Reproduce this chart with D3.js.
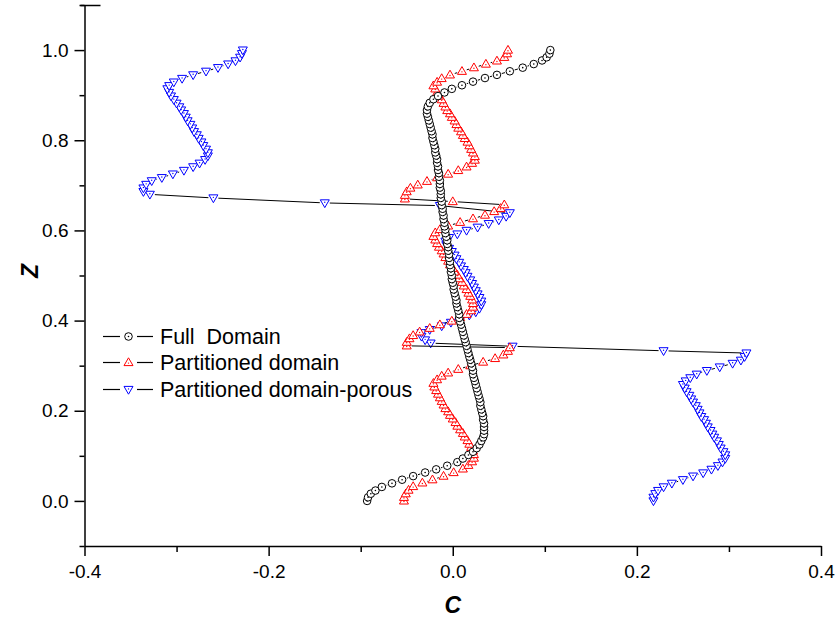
<!DOCTYPE html>
<html><head><meta charset="utf-8">
<script src="https://cdn.jsdelivr.net/npm/d3@7"></script>
<style>body{margin:0;background:#fff}svg{display:block}</style>
</head><body>
<svg id="chart" width="836" height="619"></svg>
<script>
// ---- tick values ----
const xMajor = [-0.4, -0.2, 0.0, 0.2, 0.4];
const xMinor = [-0.3, -0.1, 0.1, 0.3];
const yMajor = [0.0, 0.2, 0.4, 0.6, 0.8, 1.0];
const yMinor = [-0.1, 0.1, 0.3, 0.5, 0.7, 0.9, 1.1];
const seriesNames = ["Full  Domain", "Partitioned domain", "Partitioned domain-porous"];

// ---- Full Domain ----
const zFull = [0,0.008,0.016,0.023,0.031,0.039,0.047,0.055,0.063,0.070,
0.078,0.086,0.094,0.102,0.109,0.117,0.125,0.133,0.141,0.148,
0.156,0.164,0.172,0.180,0.188,0.195,0.203,0.211,0.219,0.227,
0.234,0.242,0.250,0.258,0.266,0.273,0.281,0.289,0.297,0.305,
0.313,0.320,0.328,0.336,0.344,0.352,0.359,0.367,0.375,0.383,
0.391,0.398,0.406,0.414,0.422,0.430,0.438,0.445,0.453,0.461,
0.469,0.477,0.484,0.492,0.500,0.508,0.516,0.523,0.531,0.539,
0.547,0.555,0.563,0.570,0.578,0.586,0.594,0.602,0.609,0.617,
0.625,0.633,0.641,0.648,0.656,0.664,0.672,0.680,0.688,0.695,
0.703,0.711,0.719,0.727,0.734,0.742,0.750,0.758,0.766,0.773,
0.781,0.789,0.797,0.805,0.813,0.820,0.828,0.836,0.844,0.852,
0.859,0.867,0.875,0.883,0.891,0.898,0.906,0.914,0.922,0.930,
0.938,0.945,0.953,0.961,0.969,0.977,0.984,0.992,1.000];
const cFull = [-0.093,-0.092,-0.089,-0.084,-0.077,-0.066,-0.055,-0.043,-0.030,-0.018,
-0.006,0.005,0.011,0.017,0.022,0.026,0.029,0.031,0.033,0.034,
0.034,0.034,0.034,0.033,0.033,0.032,0.031,0.030,0.030,0.029,
0.028,0.027,0.026,0.025,0.024,0.023,0.022,0.022,0.021,0.020,
0.019,0.018,0.017,0.016,0.015,0.014,0.013,0.012,0.011,0.010,
0.009,0.008,0.007,0.007,0.006,0.005,0.004,0.004,0.003,0.002,
0.001,0.001,0.000,-0.001,-0.001,-0.002,-0.002,-0.003,-0.003,-0.004,
-0.004,-0.005,-0.005,-0.006,-0.006,-0.007,-0.008,-0.008,-0.009,-0.009,
-0.010,-0.010,-0.011,-0.011,-0.012,-0.012,-0.013,-0.013,-0.013,-0.014,
-0.014,-0.014,-0.015,-0.015,-0.016,-0.016,-0.017,-0.017,-0.018,-0.019,
-0.019,-0.020,-0.021,-0.022,-0.022,-0.023,-0.024,-0.025,-0.026,-0.027,
-0.028,-0.028,-0.027,-0.025,-0.021,-0.016,-0.009,-0.001,0.010,0.022,
0.035,0.048,0.062,0.076,0.088,0.097,0.102,0.105,0.106];

// ---- Partitioned domain ----
const zPart = [0,0.008,0.016,0.024,0.032,0.040,0.047,0.055,0.063,0.071,
0.079,0.087,0.095,0.103,0.111,0.119,0.126,0.134,0.142,0.150,
0.158,0.166,0.174,0.182,0.190,0.198,0.205,0.213,0.221,0.229,
0.237,0.245,0.253,0.261,0.269,0.277,0.284,0.292,0.300,0.308,
0.316,0.324,0.332,0.340,
0.344,0.352,0.360,0.367,0.375,0.383,0.391,0.399,0.407,0.414,
0.422,0.430,0.438,0.446,0.454,0.461,0.469,0.477,0.485,0.493,
0.501,0.508,0.516,0.524,0.532,0.540,0.548,0.555,0.563,0.571,
0.579,0.587,0.595,0.602,0.610,0.618,0.626,0.634,0.642,0.649,
0.657,
0.664,
0.670,0.678,0.686,0.694,0.701,0.709,0.717,0.725,0.733,0.741,
0.749,0.756,0.764,0.772,0.780,0.788,0.796,0.804,0.811,0.819,
0.827,0.835,0.843,0.851,0.859,0.866,0.874,0.882,0.890,0.898,
0.906,0.914,0.921,0.929,0.937,0.945,0.953,0.961,0.969,0.976,
0.984,0.992,1.000];
const cPart = [-0.053,-0.053,-0.051,-0.048,-0.043,-0.033,-0.022,-0.010,0.001,0.011,
0.017,0.021,0.023,0.023,0.022,0.020,0.018,0.016,0.013,0.011,
0.008,0.005,0.003,0.000,-0.003,-0.005,-0.008,-0.010,-0.012,-0.014,
-0.016,-0.018,-0.020,-0.021,-0.017,-0.012,-0.005,0.006,0.019,0.033,
0.046,0.055,0.060,0.062,
-0.050,-0.050,-0.047,-0.043,-0.036,-0.025,-0.014,-0.001,0.008,0.015,
0.020,0.022,0.022,0.021,0.019,0.017,0.015,0.012,0.010,0.007,
0.005,0.002,0.000,-0.003,-0.005,-0.008,-0.010,-0.012,-0.015,-0.017,
-0.019,-0.021,-0.019,-0.014,-0.005,0.008,0.022,0.035,0.045,0.052,
0.056,
0.000,
-0.052,-0.052,-0.050,-0.046,-0.038,-0.028,-0.017,-0.005,0.006,0.015,
0.021,0.024,0.024,0.022,0.020,0.018,0.016,0.013,0.011,0.009,
0.006,0.004,0.002,-0.001,-0.003,-0.006,-0.008,-0.010,-0.012,-0.015,
-0.017,-0.019,-0.021,-0.017,-0.012,-0.003,0.010,0.023,0.036,0.048,
0.056,0.059,0.060];

// ---- Partitioned domain-porous ----
const zPor = [0,0.008,0.016,0.023,0.031,0.039,0.047,0.055,0.062,0.070,
0.078,0.086,0.094,0.102,0.109,0.117,0.125,0.133,0.141,0.148,
0.156,0.164,0.172,0.180,0.187,0.195,0.203,0.211,0.219,0.226,
0.234,0.242,0.250,0.258,0.266,0.273,0.281,0.289,0.297,0.305,
0.312,0.320,0.328,
0.333,0.343,0.350,
0.357,0.365,0.373,0.380,0.388,0.396,0.404,0.412,0.419,0.427,
0.435,0.443,0.451,0.459,0.466,0.474,0.482,0.490,0.498,0.506,
0.513,0.521,0.529,0.537,0.545,0.553,0.560,0.568,0.576,0.584,
0.592,0.600,0.607,0.615,0.623,0.631,0.639,
0.655,0.661,0.672,0.680,
0.686,0.694,0.702,0.710,0.717,0.725,0.733,0.741,0.749,0.757,
0.765,0.772,0.780,0.788,0.796,0.804,0.812,0.819,0.827,0.835,
0.843,0.851,0.859,0.867,0.874,0.882,0.890,0.898,0.906,0.914,
0.921,0.929,0.937,0.945,0.953,0.961,0.969,0.976,0.984,0.992,
1.000];
const cPor = [0.218,0.218,0.220,0.223,0.229,0.238,0.250,0.261,0.272,0.281,
0.288,0.293,0.296,0.296,0.294,0.291,0.289,0.287,0.284,0.282,
0.280,0.277,0.275,0.273,0.270,0.268,0.266,0.264,0.261,0.259,
0.257,0.254,0.252,0.250,0.253,0.258,0.265,0.276,0.290,0.304,
0.313,0.317,0.319,
0.229,0.065,-0.024,
-0.030,-0.034,-0.034,-0.025,-0.012,-0.002,0.009,0.018,0.025,0.029,
0.031,0.031,0.029,0.027,0.025,0.023,0.021,0.019,0.016,0.014,
0.012,0.009,0.007,0.004,0.002,-0.001,-0.004,-0.007,-0.008,-0.004,
0.005,0.015,0.027,0.039,0.050,0.058,0.062,
-0.014,-0.139,-0.260,-0.329,
-0.336,-0.336,-0.333,-0.327,-0.316,-0.304,-0.292,-0.282,-0.275,-0.269,
-0.266,-0.266,-0.268,-0.271,-0.273,-0.276,-0.278,-0.281,-0.283,-0.285,
-0.288,-0.290,-0.292,-0.295,-0.297,-0.300,-0.303,-0.306,-0.308,-0.310,
-0.308,-0.303,-0.294,-0.282,-0.268,-0.255,-0.244,-0.236,-0.231,-0.229,
-0.228];

// ---- layout ----
const L = 84.5, R = 821, T = 5, B = 546;
const FONT = "'Liberation Sans', Arial, Helvetica, sans-serif";
const svg = d3.select("#chart");
const x = d3.scaleLinear().domain([-0.4, 0.4]).range([L, R]);
const y = d3.scaleLinear().domain([-0.1, 1.1]).range([B, T]);
const fmt = d => d.toFixed(1);

const series = [
  {name: seriesNames[2], c: cPor,  z: zPor,  sym: "down",   color: "#0000ff"},
  {name: seriesNames[1], c: cPart, z: zPart, sym: "up",     color: "#ff0000"},
  {name: seriesNames[0], c: cFull, z: zFull, sym: "circle", color: "#000000"}
];

function marker(g, sym, color, px, py) {
  const m = g.append("g").attr("transform", `translate(${px},${py})`);
  if (sym === "circle") {
    m.append("circle").attr("r", 3.8).attr("fill", "#fff").attr("stroke", color).attr("stroke-width", 1);
    m.append("circle").attr("r", 0.8).attr("fill", color);
  } else if (sym === "up") {
    m.append("path").attr("d", "M0,-4.7L4.5,3.1L-4.5,3.1Z").attr("fill", "#fff").attr("stroke", color).attr("stroke-width", 1);
    m.append("circle").attr("cy", 0.6).attr("r", 0.7).attr("fill", color);
  } else {
    m.append("path").attr("d", "M0,4.7L4.5,-3.1L-4.5,-3.1Z").attr("fill", "#fff").attr("stroke", color).attr("stroke-width", 1);
    m.append("circle").attr("cy", -0.6).attr("r", 0.7).attr("fill", color);
  }
}

const plot = svg.append("g");
series.forEach(s => {
  const g = plot.append("g");
  const pts = s.c.map((c, i) => [x(c), y(s.z[i])]);
  const gap = 5;
  for (let i = 1; i < pts.length; i++) {
    const [x1, y1] = pts[i - 1], [x2, y2] = pts[i];
    const d = Math.hypot(x2 - x1, y2 - y1);
    if (d <= 2 * gap + 0.5) continue;
    const ux = (x2 - x1) / d, uy = (y2 - y1) / d;
    g.append("line")
      .attr("x1", x1 + ux * gap).attr("y1", y1 + uy * gap)
      .attr("x2", x2 - ux * gap).attr("y2", y2 - uy * gap)
      .attr("stroke", "#000").attr("stroke-width", 1);
  }
  pts.forEach(p => marker(g, s.sym, s.color, p[0], p[1]));
});

// ---- axes ----
function styleAxis(g) {
  g.selectAll("path.domain").attr("stroke", "#000").attr("stroke-width", 1.5);
  g.selectAll(".tick line").attr("stroke", "#000").attr("stroke-width", 1.5);
  g.selectAll("text").attr("font-family", FONT).attr("font-size", 19).attr("fill", "#000");
}
const gxMinor = svg.append("g").attr("transform", `translate(0,${B})`)
  .call(d3.axisBottom(x).tickValues(xMinor).tickFormat("").tickSize(6).tickSizeOuter(0));
gxMinor.select("path.domain").remove(); styleAxis(gxMinor);
const gx = svg.append("g").attr("transform", `translate(0,${B})`)
  .call(d3.axisBottom(x).tickValues(xMajor).tickFormat(fmt).tickSize(10).tickSizeOuter(0).tickPadding(9));
styleAxis(gx);

const gyMinor = svg.append("g").attr("transform", `translate(${L},0)`)
  .call(d3.axisLeft(y).tickValues(yMinor).tickFormat("").tickSize(5).tickSizeOuter(0));
gyMinor.select("path.domain").remove(); styleAxis(gyMinor);
const gy = svg.append("g").attr("transform", `translate(${L},0)`)
  .call(d3.axisLeft(y).tickValues(yMajor).tickFormat(fmt).tickSize(10).tickSizeOuter(0).tickPadding(6));
styleAxis(gy);
// short cap at the top end of the Z axis
svg.append("line").attr("x1", L - 4).attr("x2", L + 16).attr("y1", T + 0.5).attr("y2", T + 0.5)
  .attr("stroke", "#000").attr("stroke-width", 1.5);

// ---- axis titles ----
svg.append("text").attr("x", (L + R) / 2).attr("y", 613).attr("text-anchor", "middle")
  .attr("font-family", FONT).attr("font-size", 23).attr("font-weight", "bold").attr("font-style", "italic").text("C");
svg.append("text").attr("transform", "translate(38,271) rotate(-90)").attr("text-anchor", "middle")
  .attr("font-family", FONT).attr("font-size", 23).attr("font-weight", "bold").attr("font-style", "italic").text("Z");

// ---- legend ----
const legRows = [336.5, 362.5, 389.5];
const legSyms = [["circle", "#000000"], ["up", "#ff0000"], ["down", "#0000ff"]];
const leg = svg.append("g");
seriesNames.forEach((name, i) => {
  const yy = legRows[i];
  leg.append("line").attr("x1", 103).attr("x2", 120).attr("y1", yy).attr("y2", yy).attr("stroke", "#000").attr("stroke-width", 1.2);
  leg.append("line").attr("x1", 137).attr("x2", 153).attr("y1", yy).attr("y2", yy).attr("stroke", "#000").attr("stroke-width", 1.2);
  marker(leg, legSyms[i][0], legSyms[i][1], 128.5, yy);
  leg.append("text").attr("x", 160).attr("y", yy).attr("dy", "0.36em")
    .attr("font-family", FONT).attr("font-size", 21.5).style("white-space", "pre").text(name);
});
</script>
</body></html>
